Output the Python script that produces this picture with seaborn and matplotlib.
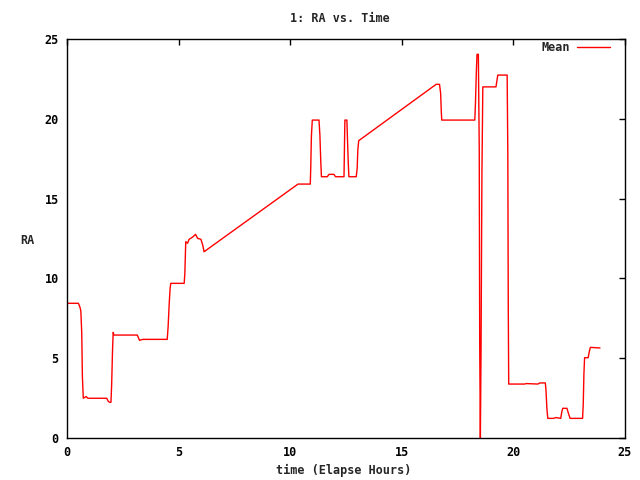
"""
Gnuplot-style line chart of mean RA against elapsed time, redrawn with seaborn.
"""

import matplotlib
matplotlib.use("Agg")
import matplotlib.pyplot as plt
import pandas as pd
import seaborn as sns

# breakpoints
hours = [0.00, 0.51, 0.58, 0.62, 0.66, 0.69, 0.73, 0.80, 0.86, 0.93,
         1.78, 1.85, 1.90, 1.97, 2.00, 2.04, 2.07, 2.10, 3.15, 3.25,
         3.40, 4.49, 4.53, 4.58, 4.62, 4.65, 5.25, 5.28, 5.32, 5.40,
         5.47, 5.62, 5.76, 5.85, 6.00, 6.08, 6.14, 10.35, 10.90, 10.92,
         10.95, 10.99, 11.29, 11.33, 11.37, 11.40, 11.66, 11.74, 11.96, 12.03,
         12.41, 12.43, 12.45, 12.54, 12.56, 12.60, 12.63, 12.96, 13.00, 13.03,
         13.07, 16.54, 16.69, 16.74, 16.77, 16.79, 18.27, 18.30, 18.34, 18.37,
         18.43, 18.47, 18.49, 18.52, 18.55, 18.59, 18.63, 19.22, 19.30, 19.72,
         19.75, 19.77, 19.79, 20.50, 20.58, 21.10, 21.18, 21.43, 21.46, 21.50,
         21.54, 21.80, 21.90, 22.12, 22.17, 22.21, 22.40, 22.46, 22.54, 23.10,
         23.13, 23.16, 23.19, 23.35, 23.40, 23.45, 23.88]
ra_mean = [8.44, 8.44, 8.20, 7.96, 6.60, 3.84, 2.49, 2.55, 2.60, 2.49,
           2.49, 2.30, 2.24, 2.24, 3.32, 5.51, 6.62, 6.45, 6.45, 6.12,
           6.18, 6.18, 6.97, 8.44, 9.38, 9.69, 9.69, 10.30, 12.30, 12.20,
           12.45, 12.58, 12.76, 12.51, 12.45, 12.09, 11.67, 15.91, 15.91, 16.90,
           18.92, 19.92, 19.92, 19.00, 17.31, 16.37, 16.37, 16.52, 16.52, 16.37,
           16.37, 18.15, 19.92, 19.92, 19.00, 17.30, 16.37, 16.37, 16.90, 18.05,
           18.63, 22.16, 22.16, 21.60, 20.45, 19.92, 19.92, 20.97, 22.95, 24.04,
           24.04, 18.05, 6.04, 0.00, 5.50, 16.60, 22.00, 22.00, 22.74, 22.74,
           17.84, 8.23, 3.38, 3.38, 3.41, 3.38, 3.45, 3.45, 3.00, 1.86,
           1.23, 1.23, 1.28, 1.23, 1.65, 1.86, 1.86, 1.57, 1.23, 1.23,
           2.17, 4.05, 5.03, 5.03, 5.41, 5.68, 5.64]

x_ticks = [0, 5, 10, 15, 20, 25]
y_ticks = [0, 5, 10, 15, 20, 25]


def main():
    df = pd.DataFrame({"time": hours, "RA": ra_mean, "series": "Mean"})

    sns.set_style("white")
    plt.rcParams["font.family"] = ["DejaVu Sans Mono"]
    plt.rcParams["font.weight"] = "bold"
    plt.rcParams["font.size"] = 8.5

    fig = plt.figure(figsize=(6.4, 4.8), dpi=100)
    ax = fig.add_axes([67 / 640, 42 / 480, 558 / 640, 399 / 480])

    sns.lineplot(data=df, x="time", y="RA", hue="series", palette=["#ff0000"],
                 estimator=None, sort=False, linewidth=1.0, ax=ax)

    ax.set_xlim(0, 25)
    ax.set_ylim(0, 25)
    ax.set_xticks(x_ticks)
    ax.set_yticks(y_ticks)
    ax.tick_params(direction="in", length=4, width=1, top=True, right=True,
                   colors="black", labelsize=8.5, pad=6)
    for lbl in ax.get_xticklabels() + ax.get_yticklabels():
        lbl.set_fontweight("bold")
    for sp in ax.spines.values():
        sp.set_visible(True)
        sp.set_color("black")
        sp.set_linewidth(1.0)

    ax.set_xlabel("")
    ax.set_ylabel("")
    fig.text(340 / 640, 1 - 18 / 480, "1: RA vs. Time", ha="center", va="center",
             fontweight="bold")
    fig.text(344 / 640, 1 - 470 / 480, "time (Elapse Hours)", ha="center",
             va="center", fontweight="bold")
    fig.text(27 / 640, 1 - 240 / 480, "RA", ha="center", va="center",
             fontweight="bold")

    leg = ax.legend(loc="upper right", frameon=False, markerfirst=False,
                    bbox_to_anchor=(610 / 640, 1 - 41 / 480),
                    bbox_transform=fig.transFigure,
                    handlelength=2.8, handletextpad=0.6,
                    borderaxespad=0, borderpad=0,
                    prop={"weight": "bold", "size": 8.5})
    for h in leg.get_lines():
        h.set_linewidth(1.0)

    fig.savefig("out.png", dpi=100)


if __name__ == "__main__":
    main()
